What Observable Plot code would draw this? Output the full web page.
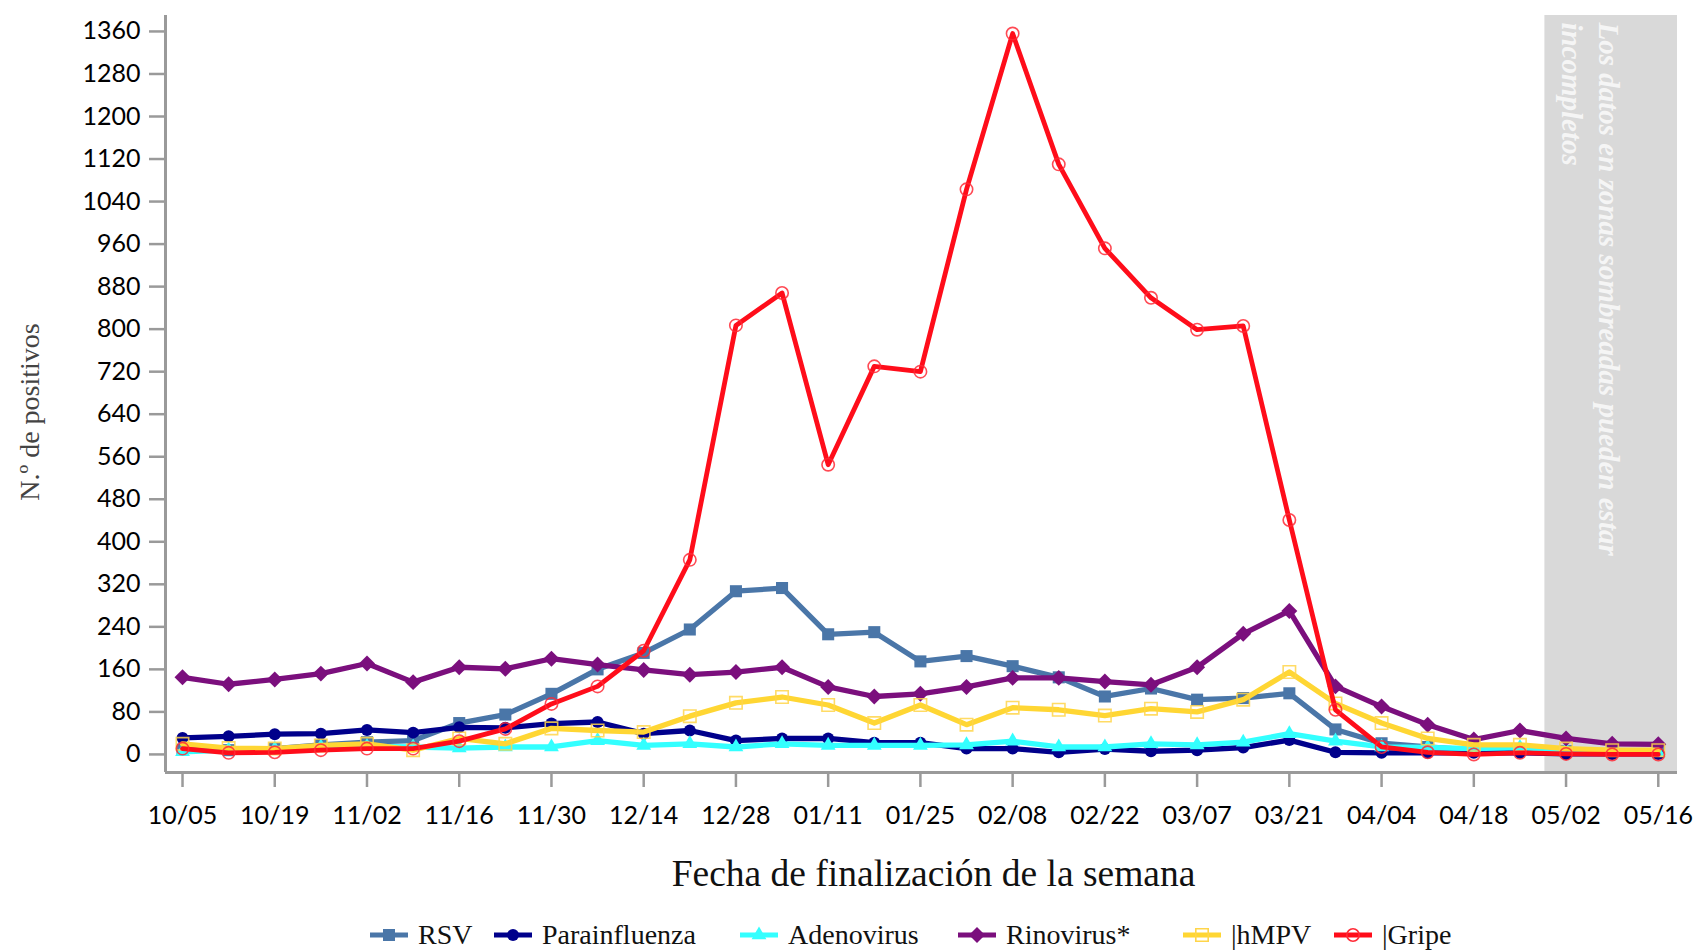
<!DOCTYPE html>
<html><head><meta charset="utf-8">
<script src="https://cdn.jsdelivr.net/npm/d3@7"></script>
<script src="https://cdn.jsdelivr.net/npm/@observablehq/plot@0.6"></script>
<style>
html,body{margin:0;padding:0;background:#fff;}
#wrap{position:relative;width:1694px;height:951px;overflow:hidden;}
#legend{position:absolute;left:0;top:915px;width:1694px;height:40px;font-family:"Liberation Serif","Times New Roman",serif;font-size:28px;color:#111;}
.item{position:absolute;top:0;height:40px;display:flex;align-items:center;white-space:nowrap;}
.item svg{margin-right:10px;overflow:visible;}
</style></head><body><div id="wrap"><div id="chart"></div><div id="legend"></div></div>
<script>
// ---- data ----
const weeks = ["2019-10-05","2019-10-12","2019-10-19","2019-10-26","2019-11-02","2019-11-09","2019-11-16","2019-11-23","2019-11-30","2019-12-07","2019-12-14","2019-12-21","2019-12-28","2020-01-04","2020-01-11","2020-01-18","2020-01-25","2020-02-01","2020-02-08","2020-02-15","2020-02-22","2020-02-29","2020-03-07","2020-03-14","2020-03-21","2020-03-28","2020-04-04","2020-04-11","2020-04-18","2020-04-25","2020-05-02","2020-05-09","2020-05-16"];
const seriesNames = ["RSV","Parainfluenza","Adenovirus","Rinovirus*","hMPV","Gripe"];
const legendLabels = ["RSV","Parainfluenza","Adenovirus","Rinovirus*","|hMPV","|Gripe"];
const rsv =    [9,8,11,18,23,26,59,75,114,160,191,235,307,313,226,230,175,185,166,145,109,124,103,106,115,47,21,14,8,9,6,5,4];
const para =   [31,34,38,39,46,41,51,50,58,61,39,45,26,30,30,22,22,11,11,4,10,6,8,13,27,4,3,3,3,3,1,1,1];
const adeno =  [5,8,10,14,15,14,12,14,14,26,17,20,14,20,17,17,17,18,25,14,14,20,18,23,39,25,14,13,11,13,8,5,3];
const rino =   [145,132,141,152,171,136,164,161,180,169,159,150,155,164,127,109,114,127,144,144,137,131,164,227,270,128,90,56,28,45,30,20,19];
const hmpv =   [20,12,11,17,20,8,30,20,49,45,42,72,97,108,93,59,93,56,88,84,73,86,80,103,155,96,59,30,18,18,11,8,8];
const gripe =  [11,3,4,8,11,11,25,48,95,128,195,366,807,868,545,730,720,1063,1356,1110,952,859,799,806,441,84,14,4,0,3,1,0,0];
const yTicks = [0,80,160,240,320,400,480,560,640,720,800,880,960,1040,1120,1200,1280,1360];
const xTicks = ["2019-10-05","2019-10-19","2019-11-02","2019-11-16","2019-11-30","2019-12-14","2019-12-28","2020-01-11","2020-01-25","2020-02-08","2020-02-22","2020-03-07","2020-03-21","2020-04-04","2020-04-18","2020-05-02","2020-05-16"];
const shadedPeriod = [{start:"2020-04-28T19:00", end:"2020-05-18T22:00"}];
const shadedNote = "Los datos en zonas sombreadas pueden estar\nincompletos";
const xTitle = "Fecha de finalización de la semana";
const yTitle = "N.º de positivos";

// ---- styles ----
const styles = {
  "RSV":          {color:"#4a76a8", symbol:"square",   r:6.8, filled:true},
  "Parainfluenza":{color:"#00008b", symbol:"circle",   r:6,   filled:true},
  "Adenovirus":   {color:"#33ffff", symbol:"triangle", r:5.5, filled:true},
  "Rinovirus*":   {color:"#7b0f7d", symbol:"diamond2", r:7.2, filled:true},
  "hMPV":         {color:"#ffd633", symbol:"square",   r:7,   filled:false, mk:"#ffd54a"},
  "Gripe":        {color:"#ff0d1a", symbol:"circle",   r:6.2, filled:false, mk:"#ff2a36"}
};
const values = [rsv, para, adeno, rino, hmpv, gripe];
const parse = s => new Date(s + (s.length === 10 ? "T00:00Z" : "Z"));
const rows = [];
seriesNames.forEach((name, k) => weeks.forEach((w, i) => rows.push({series:name, date:parse(w), value:values[k][i]})));
const band = shadedPeriod.map(d => ({start:parse(d.start), end:parse(d.end)}));

const xDomain = [parse("2019-10-02T10:00"), parse("2020-05-18T22:00")];
const yDomain = [-34, 1390];
const axisGrey = "#9a9a9a";

const marks = [
  Plot.rect(band, {x1:"start", x2:"end", y1:yDomain[0], y2:yDomain[1], fill:"#d9d9d9"}),
  Plot.text([shadedNote], {x:[parse("2020-05-06T00:00")], y:[1377], rotate:90, textAnchor:"start", lineAnchor:"middle", lineHeight:1.26,
    fontFamily:"Liberation Serif, serif", fontStyle:"italic", fontWeight:"bold", fontSize:29, fill:"#f5f5f5"}),
  Plot.ruleX([xDomain[0]], {y1:yDomain[0], y2:yDomain[1], stroke:axisGrey, strokeWidth:3}),
  Plot.ruleY([yDomain[0]], {x1:xDomain[0], x2:xDomain[1], stroke:axisGrey, strokeWidth:3}),
  Plot.axisY({ticks:yTicks, tickFormat:d => String(d), tickSize:16, tickPadding:9, stroke:axisGrey, strokeWidth:2.5, fill:"#000", fontSize:25, label:null}),
  Plot.axisX({ticks:xTicks.map(parse), tickFormat:d3.utcFormat("%m/%d"), tickSize:15, tickPadding:19, stroke:axisGrey, strokeWidth:2.5, fill:"#000", fontSize:25, label:null})
];
seriesNames.forEach(name => {
  const s = styles[name];
  const data = rows.filter(d => d.series === name);
  marks.push(Plot.line(data, {x:"date", y:"value", stroke:s.color, strokeWidth: name === "Gripe" ? 4.8 : 5.3, strokeLinejoin:"round"}));
  if (s.filled) marks.push(Plot.dot(data, {x:"date", y:"value", symbol:s.symbol, r:s.r, fill:s.color, stroke:"none"}));
  else marks.push(Plot.dot(data, {x:"date", y:"value", symbol:s.symbol, r:s.r, fill:"none", stroke:s.mk, strokeWidth:1.6, strokeOpacity:0.85}));
});
marks.push(Plot.text([xTitle], {frameAnchor:"bottom", dx:12, dy:101, lineAnchor:"middle", fontFamily:"Liberation Serif, serif", fontSize:37.5, fill:"#111"}));
marks.push(Plot.text([yTitle], {frameAnchor:"left", dx:-135, dy:18, rotate:-90, textAnchor:"middle", lineAnchor:"middle", fontFamily:"Liberation Serif, serif", fontSize:28, fill:"#444"}));

const chart = Plot.plot({
  width:1694, height:905,
  marginLeft:165, marginRight:17, marginTop:15, marginBottom:133,
  x:{type:"utc", domain:xDomain, label:null},
  y:{domain:yDomain, label:null},
  style:{fontFamily:"Lato, sans-serif", fontSize:"25px", background:"#fff", overflow:"visible"},
  marks
});
document.getElementById("chart").appendChild(chart);

// ---- legend ----
const legendLefts = [370, 494, 740, 958, 1183, 1334];
const legend = d3.select("#legend");
const symMap = {square:d3.symbolSquare, circle:d3.symbolCircle, triangle:d3.symbolTriangle, diamond2:d3.symbolDiamond2};
seriesNames.forEach((name, k) => {
  const s = styles[name];
  const item = legend.append("div").attr("class","item").style("left", legendLefts[k] + "px");
  const svg = item.append("svg").attr("width", 38).attr("height", 24);
  svg.append("line").attr("x1",0).attr("x2",38).attr("y1",12).attr("y2",12).attr("stroke",s.color).attr("stroke-width",5);
  const p = svg.append("path").attr("transform","translate(19,12)").attr("d", d3.symbol(symMap[s.symbol], Math.PI*s.r*s.r)());
  if (s.filled) p.attr("fill", s.color);
  else p.attr("fill","none").attr("stroke", s.mk).attr("stroke-width",1.6);
  item.append("span").text(legendLabels[k]);
});
</script></body></html>
